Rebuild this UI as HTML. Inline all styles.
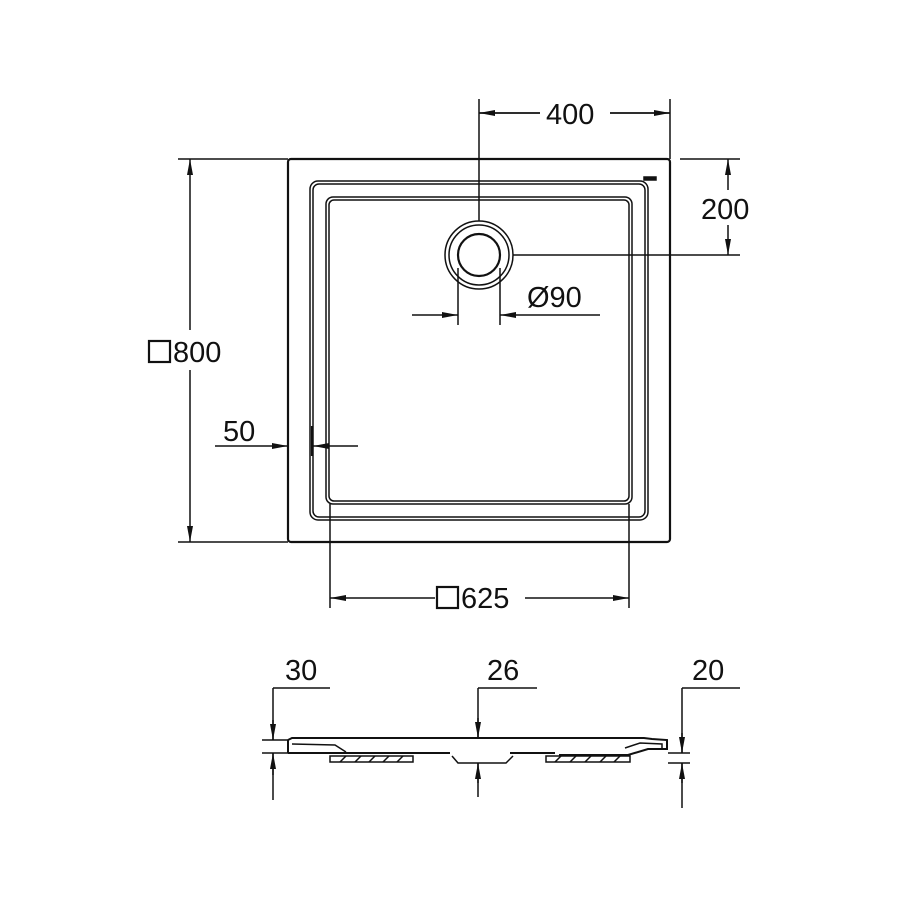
<!DOCTYPE html>
<html><head><style>body{margin:0;background:#fff}svg{display:block}</style></head><body>
<svg width="900" height="900" viewBox="0 0 900 900" xmlns="http://www.w3.org/2000/svg" font-family="Liberation Sans, sans-serif" font-size="29" fill="none" stroke="#111">
<defs><marker id="a" viewBox="0 0 16 6" refX="16" refY="3" markerWidth="16" markerHeight="7" markerUnits="userSpaceOnUse" orient="auto"><path d="M0,0L16,3L0,6z" fill="#111" stroke="none"/></marker></defs>
<g stroke-width="2.2">
<rect x="288" y="159" width="382" height="383" rx="3"/>
</g>
<g stroke-width="1.5">
<rect x="310" y="181" width="338" height="339" rx="8"/>
<rect x="313" y="184" width="332" height="333" rx="6"/>
<rect x="326" y="197" width="306" height="307" rx="7"/>
<rect x="329" y="200" width="300" height="301" rx="5"/>
<circle cx="479" cy="255" r="34"/><circle cx="479" cy="255" r="30"/>
<circle cx="479" cy="255" r="21" stroke-width="2.2"/>
<path d="M644,177h12v3h-12z" fill="#111"/>
<path d="M479,99V221M670,99V159M479,113H540M670,113H610"/>
<path d="M540,113H479" marker-end="url(#a)"/><path d="M610,113H670" marker-end="url(#a)"/>
<path d="M680,159H740M513,255H740"/>
<path d="M728,190V159" marker-end="url(#a)"/><path d="M728,225V255" marker-end="url(#a)"/>
<path d="M178,159H288M178,542H288"/>
<path d="M190,330V159" marker-end="url(#a)"/><path d="M190,370V542" marker-end="url(#a)"/>
<path d="M458,268V325M500,268V325"/>
<path d="M412,315H458" marker-end="url(#a)"/><path d="M600,315H500" marker-end="url(#a)"/>
<path d="M215,446H288" marker-end="url(#a)"/><path d="M358,446H313" marker-end="url(#a)"/>
<path d="M312,426V456" stroke-width="2.2"/>
<path d="M330,504V608M629,504V608"/>
<path d="M435,598H330" marker-end="url(#a)"/><path d="M525,598H629" marker-end="url(#a)"/>
<path d="M288,740L292,738H644L652,739L667,740V749H648L628,755H559M288,740V753M288,753H450M510,753H555" stroke-width="2"/>
<path d="M292,744L335,745L346,752M625,748L640,743L662,744V749"/>
<path d="M330,756H413V762H330z M546,756H630V762H546z M452,756L458,763H506L513,756"/>
<path d="M340,762l6,-6M355,762l6,-6M369,762l6,-6M383,762l6,-6M397,762l6,-6M555,762l6,-6M570,762l6,-6M585,762l6,-6M600,762l6,-6M614,762l6,-6"/>
<path d="M262,740H288M262,753H288M668,753H690M668,763H690"/>
<path d="M273,688H330M273,688V740M273,800V753M478,688H537M478,688V738M478,797V763M682,688H740M682,688V753M682,808V763"/>
<path d="M273,720V740" marker-end="url(#a)"/><path d="M273,775V753" marker-end="url(#a)"/>
<path d="M478,718V738" marker-end="url(#a)"/><path d="M478,783V763" marker-end="url(#a)"/>
<path d="M682,733V753" marker-end="url(#a)"/><path d="M682,783V763" marker-end="url(#a)"/>
</g>
<g fill="#111" stroke="none">
<text x="546" y="124">400</text>
<text x="701" y="219">200</text>
<text x="527" y="307">Ø90</text>
<text x="173" y="362">800</text>
<text x="223" y="441">50</text>
<text x="461" y="608">625</text>
<text x="285" y="680">30</text>
<text x="487" y="680">26</text>
<text x="692" y="680">20</text>
</g>
<rect x="149" y="341" width="21" height="21" stroke-width="2.2"/>
<rect x="437" y="587" width="21" height="21" stroke-width="2.2"/>
</svg>
</body></html>
